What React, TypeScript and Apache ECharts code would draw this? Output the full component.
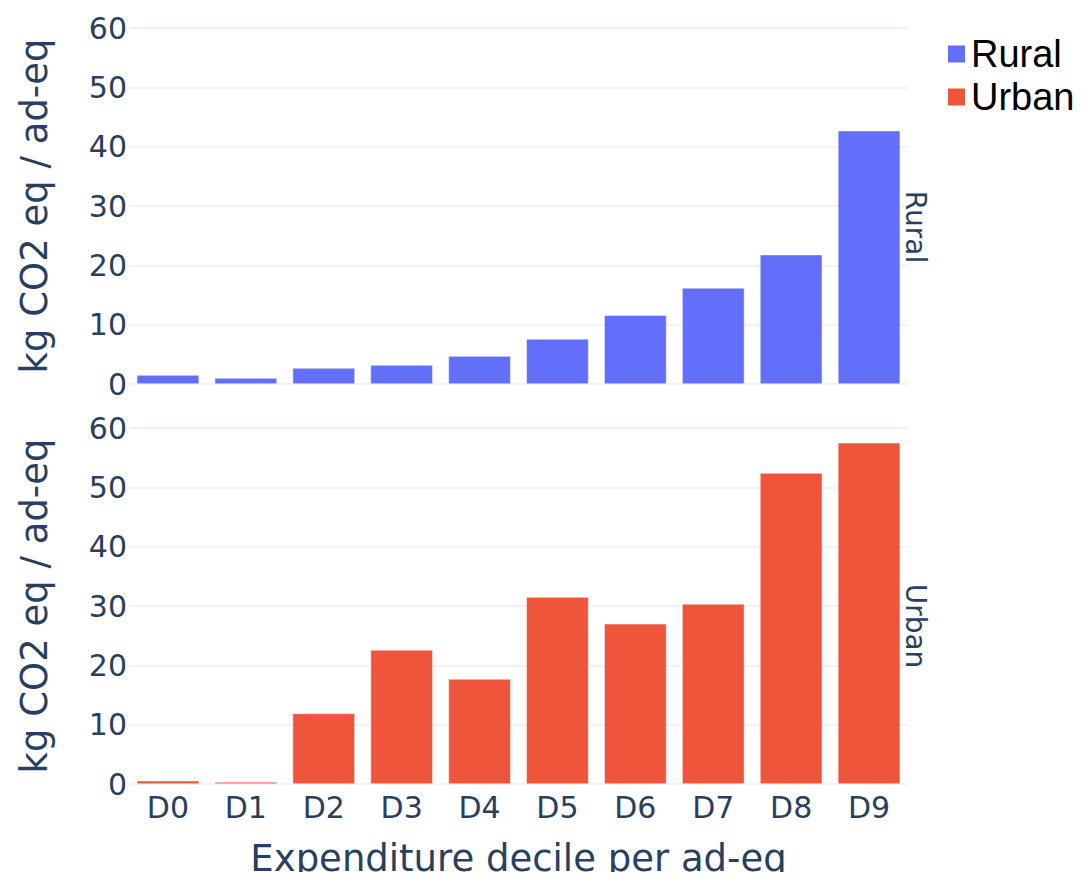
import React, { useEffect, useRef } from "react";
import * as echarts from "echarts";

const categories = ["D0", "D1", "D2", "D3", "D4", "D5", "D6", "D7", "D8", "D9"];
const ruralValues = [1.5, 1.0, 2.7, 3.2, 4.7, 7.6, 11.6, 16.2, 21.8, 42.7];
const urbanValues = [0.55, 0.35, 11.9, 22.6, 17.7, 31.5, 27.0, 30.35, 52.4, 57.5];
const yTicks = [0, 10, 20, 30, 40, 50, 60];
const seriesNames = ["Rural", "Urban"];
const facetLabels = ["Rural", "Urban"];
const yTitle = "kg CO2 eq / ad-eq";
const xTitle = "Expenditure decile per ad-eq";

const FONT = "DejaVu Sans";
const TEXT = "#2a3f5f";
const GRID = "#ebf0f8";
const COLORS = ["#636efa", "#EF553B"];

export default function App() {
  const ref = useRef<HTMLDivElement>(null);
  useEffect(() => {
    if (!ref.current) return;
    const chart = echarts.init(ref.current, null, { renderer: "svg" });
    const grids = [
      { left: 129, right: 177, top: 28, height: 356, outerBoundsMode: "none", containLabel: false },
      { left: 129, right: 177, top: 428, height: 356, outerBoundsMode: "none", containLabel: false },
    ];
    const mkX = (idx: number) => ({
      type: "category",
      gridIndex: idx,
      data: categories,
      axisLine: { show: false },
      axisTick: { show: false },
      axisLabel: {
        show: idx === 1,
        fontFamily: FONT,
        fontSize: 30,
        color: TEXT,
        margin: 8,
      },
      name: idx === 1 ? xTitle : "",
      nameLocation: "middle",
      nameGap: 56,
      nameTextStyle: { fontFamily: FONT, fontSize: 37, color: TEXT },
    });
    const mkY = (idx: number) => ({
      type: "value",
      gridIndex: idx,
      min: yTicks[0],
      max: yTicks[yTicks.length - 1],
      interval: 10,
      axisLine: { show: false },
      axisTick: { show: false },
      axisLabel: { fontFamily: FONT, fontSize: 30, color: TEXT, margin: 2 },
      splitLine: { show: true, lineStyle: { color: GRID, width: 1.5 } },
      name: yTitle,
      nameLocation: "middle",
      nameGap: 76,
      nameTextStyle: { fontFamily: FONT, fontSize: 37, color: TEXT },
    });
    const option: any = {
      animation: false,
      backgroundColor: "#fff",
      legend: {
        data: seriesNames,
        orient: "vertical",
        left: 941,
        top: 30,
        icon: "rect",
        itemWidth: 19,
        itemHeight: 19,
        itemGap: 5,
        textStyle: { fontFamily: "Liberation Sans", fontSize: 38, color: "#000" },
      },
      grid: grids,
      xAxis: [mkX(0), mkX(1)],
      yAxis: [mkY(0), mkY(1)],
      series: [
        {
          name: seriesNames[0],
          type: "bar",
          xAxisIndex: 0,
          yAxisIndex: 0,
          data: ruralValues,
          barCategoryGap: "20%",
          itemStyle: { color: COLORS[0], borderColor: "#fff", borderWidth: 0.5 },
        },
        {
          name: seriesNames[1],
          type: "bar",
          xAxisIndex: 1,
          yAxisIndex: 1,
          data: urbanValues,
          barCategoryGap: "20%",
          itemStyle: { color: COLORS[1], borderColor: "#fff", borderWidth: 0.5 },
        },
      ],
      graphic: [
        {
          type: "text",
          x: 901,
          y: 227,
          z: 100,
          rotation: -Math.PI / 2,
          style: {
            text: facetLabels[0],
            fontFamily: FONT,
            fontSize: 28,
            fill: TEXT,
            align: "center",
            verticalAlign: "bottom",
          },
        },
        {
          type: "text",
          x: 901,
          y: 626,
          z: 100,
          rotation: -Math.PI / 2,
          style: {
            text: facetLabels[1],
            fontFamily: FONT,
            fontSize: 28,
            fill: TEXT,
            align: "center",
            verticalAlign: "bottom",
          },
        },
      ],
    };
    chart.setOption(option);
    return () => chart.dispose();
  }, []);
  return <div ref={ref} style={{ width: 1085, height: 880, margin: -8 }} />;
}
